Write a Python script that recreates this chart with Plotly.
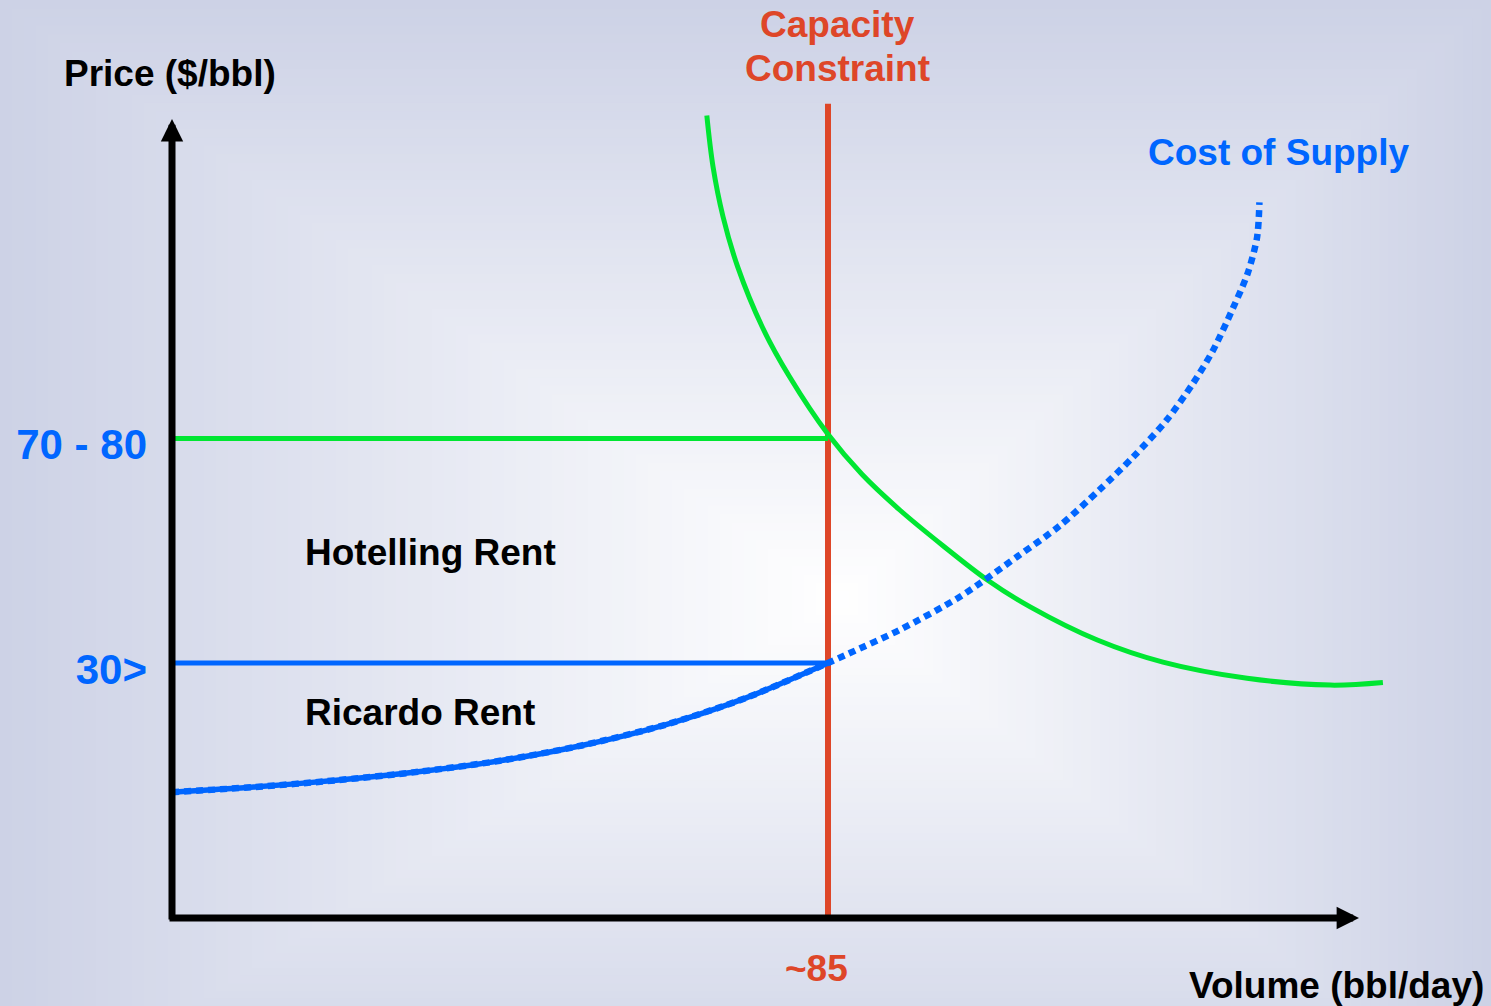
import base64
import plotly.graph_objects as go

# ---------------- data (conceptual units) ----------------
capacity_volume = 85.0
capacity_top = 95.8
hotelling_price = 56.4
ricardo_price = 30.0

price_tick_vals = [ricardo_price, hotelling_price]
price_tick_text = ["30>", "70 - 80"]
volume_tick_text = "~85"

# cost of supply curve (solid up to capacity, dotted beyond)
supply_vol = [0.0, 10.6, 21.3, 31.9, 42.5, 53.1, 63.8, 74.4, 85.0, 87.9, 94.3, 102.1,
              109.5, 115.1, 120.2, 124.5, 128.9, 132.3, 134.9, 137.5, 139.4, 140.6, 140.9]
supply_price = [14.8, 15.4, 16.2, 17.2, 18.5, 20.3, 22.7, 25.9, 30.0, 31.2, 33.9, 37.8,
                42.5, 46.2, 50.4, 54.2, 58.6, 62.9, 66.8, 71.8, 75.9, 80.1, 84.2]
supply_solid_count = 9

# demand curve
demand_vol = [69.3, 70.1, 71.4, 73.3, 76.5, 80.0, 85.0, 89.4, 94.3, 99.9, 105.6, 111.2,
              119.9, 128.4, 139.3, 150.1, 156.9]
demand_price = [94.4, 88.4, 82.5, 76.6, 69.5, 63.7, 56.9, 52.2, 48.0, 43.8, 39.8, 36.6,
                32.7, 30.1, 28.2, 27.4, 27.7]

# ---------------- layout geometry ----------------
W, H = 1491, 1006
L, B = 172, 88
PW, PH = W - L, H - B
SX = 656 / 85.0        # px per volume unit
SY = 8.5               # px per price unit
X_MAX = PW / SX
Y_MAX = PH / SY


def dx(px):
    return (px - L) / SX


def dy(py):
    return (PH - py) / SY


def px_x(px):
    return (px - L) / PW


def px_y(py):
    return (PH - py) / PH


GREEN = "#00e632"
BLUE = "#0066ff"
RED = "#de4628"
FONT = "Liberation Sans, Arial, sans-serif"

# ---------------- background: rectangular "path" gradient as SVG ----------------
cx, cy = 840, 600
edge = (205, 210, 230)
rects = []
N = 70
for k in range(N, 0, -1):
    t = k / N
    c = tuple(round(255 + (e - 255) * t) for e in edge)
    x0 = cx - cx * t
    x1 = cx + (W - cx) * t
    y0 = cy - cy * t
    y1 = cy + (H + 120 - cy) * t
    rects.append(f'<rect x="{x0:.1f}" y="{y0:.1f}" width="{x1 - x0:.1f}" height="{y1 - y0:.1f}" '
                 f'fill="rgb{c}"/>')
svg = (f'<svg xmlns="http://www.w3.org/2000/svg" width="{W}" height="{H}" '
       f'viewBox="0 0 {W} {H}" preserveAspectRatio="none">' + "".join(rects) + '</svg>')
bg_src = "data:image/svg+xml;base64," + base64.b64encode(svg.encode()).decode()

fig = go.Figure()

# capacity constraint
fig.add_trace(go.Scatter(x=[capacity_volume, capacity_volume], y=[0, capacity_top],
                         mode="lines", line=dict(color=RED, width=6), hoverinfo="skip"))
# hotelling & ricardo price levels
fig.add_trace(go.Scatter(x=[0, capacity_volume], y=[hotelling_price, hotelling_price],
                         mode="lines", line=dict(color=GREEN, width=5), hoverinfo="skip"))
fig.add_trace(go.Scatter(x=[0, capacity_volume], y=[ricardo_price, ricardo_price],
                         mode="lines", line=dict(color=BLUE, width=5), hoverinfo="skip"))
# demand
fig.add_trace(go.Scatter(x=demand_vol, y=demand_price, mode="lines",
                         line=dict(color=GREEN, width=5, shape="spline", smoothing=1),
                         hoverinfo="skip"))
# cost of supply: dotted full, solid to capacity
fig.add_trace(go.Scatter(x=supply_vol, y=supply_price, mode="lines",
                         line=dict(color=BLUE, width=6.5, dash="7px,5px", shape="spline",
                                   smoothing=0.8),
                         hoverinfo="skip"))
fig.add_trace(go.Scatter(x=supply_vol[:supply_solid_count], y=supply_price[:supply_solid_count],
                         mode="lines",
                         line=dict(color=BLUE, width=5.5, shape="spline", smoothing=0.8),
                         hoverinfo="skip"))

ann = []
# axes with arrowheads
ann.append(dict(x=dx(1359), y=0, ax=dx(168), ay=0, xref="x", yref="y", axref="x", ayref="y",
                text="", showarrow=True, arrowhead=2, arrowsize=0.64, arrowwidth=7,
                arrowcolor="black"))
ann.append(dict(x=0, y=dy(119), ax=0, ay=dy(921), xref="x", yref="y", axref="x", ayref="y",
                text="", showarrow=True, arrowhead=2, arrowsize=0.64, arrowwidth=7,
                arrowcolor="black"))


def label(text, px, py, color, xanchor="center", size=37):
    ann.append(dict(x=px_x(px), y=px_y(py), xref="paper", yref="paper", text=text,
                    showarrow=False, xanchor=xanchor, yanchor="middle",
                    font=dict(family=FONT, size=size, color=color, weight="bold")))


label("Price ($/bbl)", 170, 73, "black")
label("Capacity", 837, 25, RED)
label("Constraint", 837, 69, RED)
label("Cost of Supply", 1278, 153, BLUE)
label("Hotelling Rent", 303, 552, "black", xanchor="left")
label("Ricardo Rent", 303, 712, "black", xanchor="left")
label("Volume (bbl/day)", 1486, 985, "black", xanchor="right")
ann.append(dict(x=capacity_volume, y=px_y(968), xref="x", yref="paper", text=volume_tick_text,
                showarrow=False, xshift=-12, xanchor="center", yanchor="middle",
                font=dict(family=FONT, size=37, color=RED, weight="bold")))

fig.update_layout(
    width=W, height=H,
    margin=dict(l=L, r=0, t=0, b=B, pad=0),
    paper_bgcolor="rgb(205,210,230)",
    plot_bgcolor="rgba(0,0,0,0)",
    showlegend=False,
    annotations=ann,
    images=[dict(source=bg_src, xref="paper", yref="paper", x=-L / PW, y=1,
                 sizex=W / PW, sizey=H / PH, xanchor="left", yanchor="top",
                 sizing="stretch", layer="below")],
    xaxis=dict(range=[0, X_MAX], showgrid=False, zeroline=False, showline=False,
               showticklabels=False, ticks="", fixedrange=True),
    yaxis=dict(range=[0, Y_MAX], showgrid=False, zeroline=False, showline=False,
               tickvals=price_tick_vals, ticktext=price_tick_text, ticks="",
               ticklabelstandoff=24, ticklabelshift=6,
               tickfont=dict(family=FONT, size=42, color=BLUE, weight="bold"),
               fixedrange=True),
)

fig.write_html("out.html", config={"displayModeBar": False},
               post_script="document.body.style.margin='0px';document.body.style.overflow='hidden';")
